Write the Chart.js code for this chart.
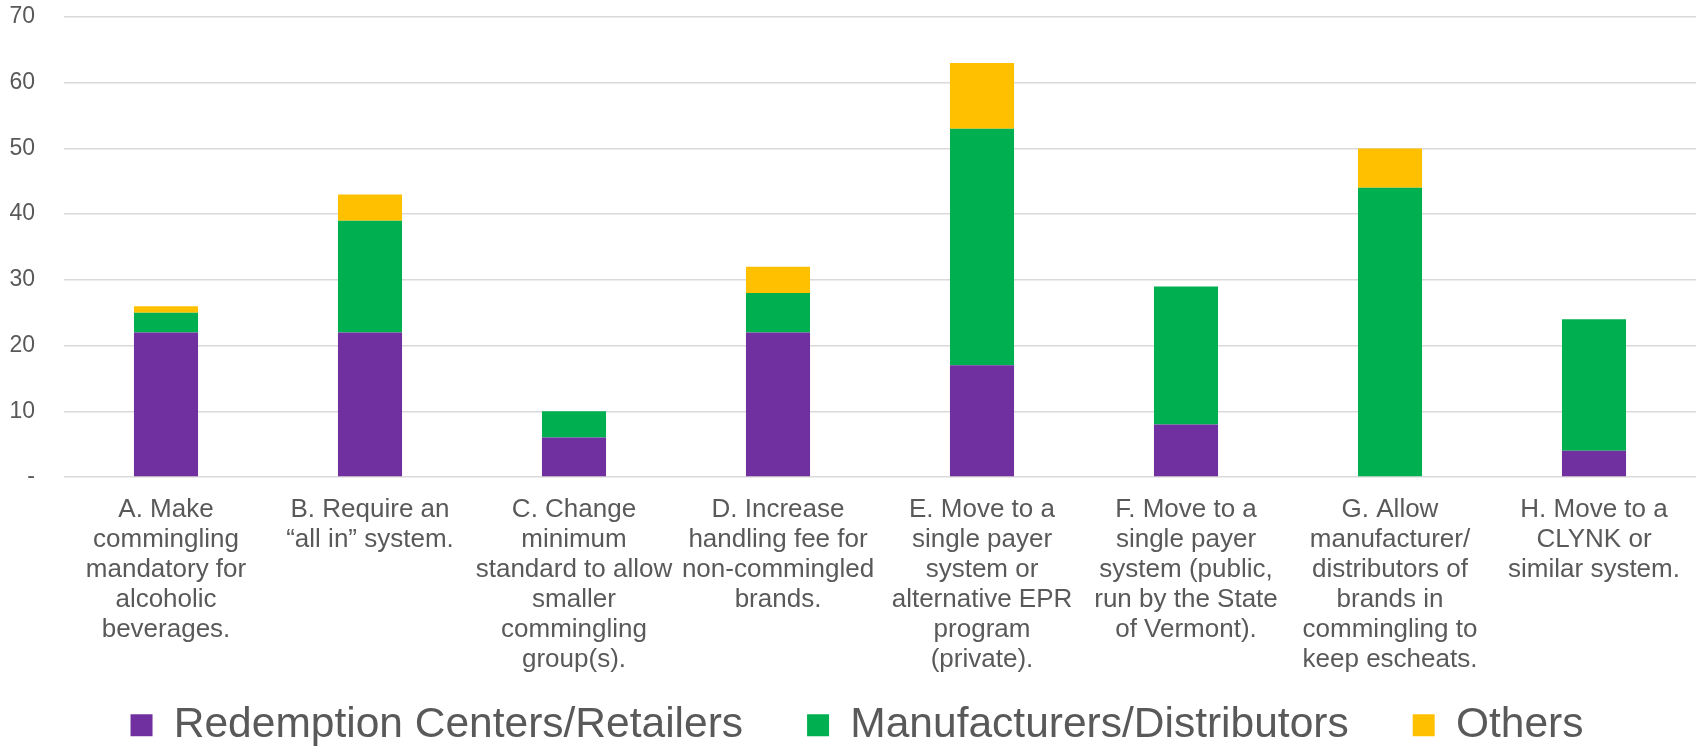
<!DOCTYPE html>
<html>
<head>
<meta charset="utf-8">
<script src="https://cdn.jsdelivr.net/npm/chart.js@4.4.0/dist/chart.umd.min.js"></script>
<style>
  html, body { margin: 0; padding: 0; background: #fff; }
  #wrap { width: 1698px; height: 746px; position: relative; }
</style>
</head>
<body>
<div id="wrap"><canvas id="commChart"></canvas></div>
<script>
const categories = [
  ['A. Make', 'commingling', 'mandatory for', 'alcoholic', 'beverages.'],
  ['B. Require an', '\u201call in\u201d system.'],
  ['C. Change', 'minimum', 'standard to allow', 'smaller', 'commingling', 'group(s).'],
  ['D. Increase', 'handling fee for', 'non-commingled', 'brands.'],
  ['E. Move to a', 'single payer', 'system or', 'alternative EPR', 'program', '(private).'],
  ['F. Move to a', 'single payer', 'system (public,', 'run by the State', 'of Vermont).'],
  ['G. Allow', 'manufacturer/', 'distributors of', 'brands in', 'commingling to', 'keep escheats.'],
  ['H. Move to a', 'CLYNK or', 'similar system.'],
];
const redemption = [22, 22, 6, 22, 17, 8, 0, 4];
const manufacturers = [3, 17, 4, 6, 36, 21, 44, 20];
const others = [1, 4, 0, 4, 10, 0, 6, 0];
const yTicks = [0, 10, 20, 30, 40, 50, 60, 70];

const FONT = 'Liberation Sans, Arial, sans-serif';
const GREY = '#595959';

// legend padding also sets the wide gaps between items, which makes the box tall;
// lift it so it overlaps the bottom of the x label area (and nudge it right a bit)
const legendLift = {
  id: 'legendLift',
  afterLayout(chart) {
    const lg = chart.legend;
    if (!lg) return;
    lg.top = 640;
    lg.bottom = 746;
    lg.left += 9;
    lg.right += 9;
  },
};

const ctx = document.getElementById('commChart');
new Chart(ctx, {
  type: 'bar',
  data: {
    labels: categories,
    datasets: [
      { label: 'Redemption Centers/Retailers', data: redemption, backgroundColor: '#7030A0' },
      { label: 'Manufacturers/Distributors', data: manufacturers, backgroundColor: '#00B050' },
      { label: 'Others', data: others, backgroundColor: '#FFC000' },
    ],
  },
  plugins: [legendLift],
  options: {
    responsive: true,
    maintainAspectRatio: false,
    animation: false,
    layout: { padding: { left: 0, right: 2, top: 17, bottom: -60.5 } },
    datasets: { bar: { categoryPercentage: 1, barPercentage: 0.314 } },
    plugins: {
      tooltip: { enabled: false },
      legend: {
        position: 'bottom',
        labels: {
          font: { family: FONT, size: 42.5 },
          color: GREY,
          boxWidth: 22,
          boxHeight: 22,
          padding: 64,
        },
      },
    },
    scales: {
      x: {
        stacked: true,
        grid: { display: false },
        border: { display: false },
        afterFit: (scale) => { scale.height = 213; },
        ticks: {
          color: GREY,
          font: { family: FONT, size: 26, lineHeight: 1.154 },
          maxRotation: 0,
          autoSkip: false,
          padding: 10,
        },
      },
      y: {
        stacked: true,
        min: 0,
        max: 70,
        afterBuildTicks: (axis) => { axis.ticks = yTicks.map((v) => ({ value: v })); },
        afterFit: (scale) => {
          scale.width = 64;
          scale.paddingTop = 0;
          scale.paddingBottom = 0;
        },
        grid: { color: '#d9d9d9', lineWidth: 1.5, drawTicks: false },
        border: { display: false },
        ticks: {
          color: GREY,
          font: { family: FONT, size: 23 },
          padding: 29,
          callback: (v) => (v === 0 ? '-' : v),
        },
      },
    },
  },
});
</script>
</body>
</html>
